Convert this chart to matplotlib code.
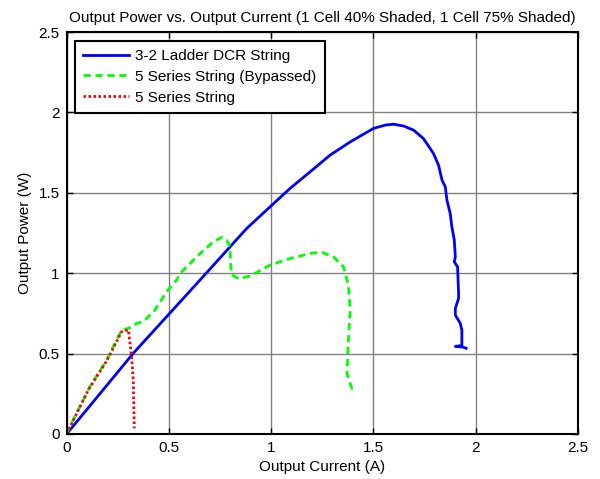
import matplotlib
matplotlib.use("Agg")
import matplotlib.pyplot as plt

plt.rcParams['font.family'] = ['Liberation Sans', 'DejaVu Sans']

# 3-2 Ladder DCR String
ladder_i = [0.0, 0.114, 0.326, 0.652, 0.881, 0.995, 1.093, 1.191, 1.289, 1.387, 1.501,
            1.560, 1.599, 1.650, 1.697, 1.745, 1.794, 1.819, 1.836, 1.852, 1.860, 1.876,
            1.884, 1.896, 1.901, 1.896, 1.912, 1.917, 1.917, 1.901, 1.901, 1.925, 1.933,
            1.933, 1.901, 1.940, 1.954]
ladder_p = [0.0, 0.175, 0.502, 0.957, 1.279, 1.413, 1.528, 1.631, 1.735, 1.817, 1.901,
            1.922, 1.927, 1.915, 1.890, 1.838, 1.745, 1.672, 1.579, 1.537, 1.455, 1.372,
            1.289, 1.206, 1.102, 1.071, 1.040, 0.875, 0.844, 0.781, 0.740, 0.688, 0.647,
            0.550, 0.545, 0.540, 0.533]

# 5 Series String (Bypassed)
byp_i = [0.0, 0.024, 0.114, 0.196, 0.269, 0.302, 0.343, 0.375, 0.432, 0.489, 0.538,
         0.555, 0.653, 0.718, 0.759, 0.783, 0.799, 0.803, 0.808, 0.840, 0.897, 0.995,
         1.093, 1.207, 1.256, 1.305, 1.354, 1.378, 1.387, 1.378, 1.371, 1.385, 1.395, 1.371]
byp_p = [0.004, 0.067, 0.294, 0.460, 0.647, 0.657, 0.688, 0.698, 0.771, 0.885, 0.957,
         0.999, 1.123, 1.196, 1.223, 1.206, 1.164, 1.040, 0.989, 0.968, 0.982, 1.051,
         1.092, 1.127, 1.127, 1.102, 1.040, 0.926, 0.771, 0.584, 0.377, 0.320, 0.284, 0.285]

# 5 Series String
ser_i = [0.0, 0.106, 0.196, 0.269, 0.302, 0.318, 0.326, 0.331]
ser_p = [0.0, 0.274, 0.455, 0.636, 0.647, 0.481, 0.336, 0.035]

labels = ['3-2 Ladder DCR String', '5 Series String (Bypassed)', '5 Series String']
xticks = [0, 0.5, 1, 1.5, 2, 2.5]
yticks = [0, 0.5, 1, 1.5, 2, 2.5]
ticklabels = ['0', '0.5', '1', '1.5', '2', '2.5']

fig = plt.figure(figsize=(6.0, 4.79), dpi=100)
ax = fig.add_axes([0.111, 0.094, 0.852, 0.839])

ax.plot(ladder_i, ladder_p, color='#0000ff', lw=2.0, ls='-', label=labels[0])
ax.plot(byp_i, byp_p, color='#00ff00', lw=2.0, ls=(0, (2.6, 1.7)), label=labels[1])
ax.plot(ser_i, ser_p, color='#ff0000', lw=2.0, ls=(0, (0.9, 0.9)), label=labels[2])

ax.set_xlim(0, 2.5)
ax.set_ylim(0, 2.5)
ax.set_xticks(xticks)
ax.set_yticks(yticks)
ax.set_xticklabels(ticklabels)
ax.set_yticklabels(ticklabels)
ax.grid(True, color='#808080', lw=1.0, ls='-')
ax.set_axisbelow(True)
ax.tick_params(direction='in', top=True, right=True, length=4, width=1,
               labelsize=11, pad=5, colors='black')
for s in ax.spines.values():
    s.set_linewidth(1.5)
    s.set_color('black')

ax.set_title('Output Power vs. Output Current (1 Cell 40% Shaded, 1 Cell 75% Shaded)',
             fontsize=11, pad=7)
ax.set_xlabel('Output Current (A)', fontsize=11, labelpad=4)
ax.set_ylabel('Output Power (W)', fontsize=11, labelpad=5)

leg = ax.legend(loc='upper left', bbox_to_anchor=(0.016, 0.979), fontsize=11,
                fancybox=False, framealpha=1, edgecolor='black', handlelength=3.0,
                handletextpad=0.4, borderpad=0.55, labelspacing=0.45, borderaxespad=0)
leg.get_frame().set_linewidth(1.5)

fig.savefig('out.png', dpi=100)
